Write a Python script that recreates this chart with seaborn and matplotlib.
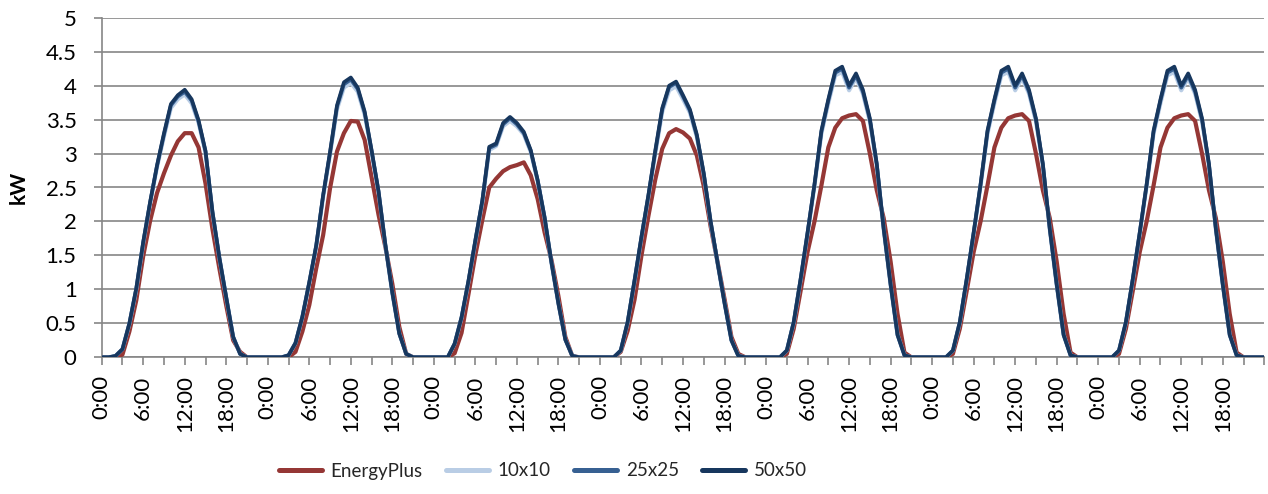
import matplotlib
matplotlib.use("Agg")
import matplotlib.pyplot as plt
import numpy as np
import pandas as pd
import seaborn as sns

# Hourly PV output (kW) over one week, hour 0 .. hour 168
energyplus = [
    0, 0, 0, 0.04, 0.38, 0.84, 1.49, 2.01, 2.42, 2.71, 2.97, 3.18, 3.30, 3.30, 3.09, 2.56, 1.89, 1.31, 0.76, 0.25, 0.08, 0, 0, 0,
    0, 0, 0, 0, 0.08, 0.38, 0.77, 1.31, 1.80, 2.49, 3.03, 3.30, 3.48, 3.47, 3.20, 2.65, 2.10, 1.62, 1.08, 0.45, 0.05, 0, 0, 0,
    0, 0, 0, 0.06, 0.36, 0.93, 1.51, 2.02, 2.50, 2.63, 2.74, 2.80, 2.83, 2.87, 2.68, 2.33, 1.84, 1.43, 0.90, 0.30, 0.02, 0, 0, 0,
    0, 0, 0, 0.08, 0.39, 0.85, 1.50, 2.08, 2.62, 3.07, 3.30, 3.36, 3.31, 3.22, 2.97, 2.52, 1.92, 1.40, 0.86, 0.30, 0.05, 0, 0, 0,
    0, 0, 0, 0.05, 0.42, 0.98, 1.55, 2.00, 2.53, 3.09, 3.38, 3.52, 3.56, 3.58, 3.48, 3.00, 2.46, 2.05, 1.41, 0.64, 0.07, 0, 0, 0,
    0, 0, 0, 0.05, 0.42, 0.98, 1.55, 2.00, 2.53, 3.09, 3.38, 3.52, 3.56, 3.58, 3.48, 3.00, 2.46, 2.05, 1.41, 0.64, 0.07, 0, 0, 0,
    0, 0, 0, 0.05, 0.42, 0.98, 1.55, 2.00, 2.53, 3.09, 3.38, 3.52, 3.56, 3.58, 3.48, 3.00, 2.46, 2.05, 1.41, 0.64, 0.07, 0, 0, 0,
    0,
]

grid_10x10 = [
    0, 0, 0.02, 0.12, 0.49, 1.00, 1.68, 2.27, 2.80, 3.25, 3.67, 3.80, 3.87, 3.74, 3.45, 3.01, 2.13, 1.46, 0.87, 0.30, 0.05, 0, 0, 0,
    0, 0, 0, 0.03, 0.21, 0.59, 1.10, 1.63, 2.36, 2.99, 3.65, 3.97, 4.04, 3.91, 3.57, 3.02, 2.43, 1.64, 0.94, 0.35, 0.05, 0, 0, 0,
    0, 0, 0, 0.20, 0.58, 1.11, 1.71, 2.28, 3.05, 3.11, 3.40, 3.48, 3.40, 3.28, 3.02, 2.59, 2.05, 1.38, 0.79, 0.26, 0.02, 0, 0, 0,
    0, 0, 0, 0.10, 0.51, 1.12, 1.76, 2.36, 3.00, 3.61, 3.93, 3.99, 3.80, 3.60, 3.24, 2.68, 1.98, 1.38, 0.80, 0.25, 0.02, 0, 0, 0,
    0, 0, 0, 0.10, 0.51, 1.14, 1.82, 2.52, 3.29, 3.74, 4.15, 4.20, 3.93, 4.11, 3.88, 3.47, 2.82, 1.88, 1.06, 0.33, 0.03, 0, 0, 0,
    0, 0, 0, 0.10, 0.51, 1.14, 1.82, 2.52, 3.29, 3.74, 4.15, 4.20, 3.93, 4.11, 3.88, 3.47, 2.82, 1.88, 1.06, 0.33, 0.03, 0, 0, 0,
    0, 0, 0, 0.10, 0.51, 1.14, 1.82, 2.52, 3.29, 3.74, 4.15, 4.20, 3.93, 4.11, 3.88, 3.47, 2.82, 1.88, 1.06, 0.33, 0.03, 0, 0, 0,
    0,
]

grid_25x25 = [
    0, 0, 0.02, 0.12, 0.50, 1.01, 1.69, 2.28, 2.82, 3.28, 3.71, 3.84, 3.91, 3.78, 3.47, 3.03, 2.14, 1.47, 0.88, 0.30, 0.05, 0, 0, 0,
    0, 0, 0, 0.03, 0.21, 0.60, 1.10, 1.64, 2.38, 3.01, 3.69, 4.02, 4.09, 3.95, 3.60, 3.04, 2.44, 1.65, 0.95, 0.35, 0.05, 0, 0, 0,
    0, 0, 0, 0.20, 0.59, 1.12, 1.72, 2.30, 3.08, 3.13, 3.43, 3.52, 3.43, 3.30, 3.04, 2.60, 2.06, 1.39, 0.79, 0.26, 0.02, 0, 0, 0,
    0, 0, 0, 0.10, 0.52, 1.13, 1.77, 2.38, 3.03, 3.65, 3.98, 4.04, 3.84, 3.63, 3.26, 2.70, 1.99, 1.39, 0.80, 0.25, 0.02, 0, 0, 0,
    0, 0, 0, 0.10, 0.52, 1.15, 1.83, 2.54, 3.32, 3.78, 4.19, 4.25, 3.97, 4.15, 3.91, 3.50, 2.84, 1.89, 1.07, 0.33, 0.03, 0, 0, 0,
    0, 0, 0, 0.10, 0.52, 1.15, 1.83, 2.54, 3.32, 3.78, 4.19, 4.25, 3.97, 4.15, 3.91, 3.50, 2.84, 1.89, 1.07, 0.33, 0.03, 0, 0, 0,
    0, 0, 0, 0.10, 0.52, 1.15, 1.83, 2.54, 3.32, 3.78, 4.19, 4.25, 3.97, 4.15, 3.91, 3.50, 2.84, 1.89, 1.07, 0.33, 0.03, 0, 0, 0,
    0,
]

grid_50x50 = [
    0, 0, 0.02, 0.12, 0.50, 1.02, 1.70, 2.29, 2.83, 3.30, 3.73, 3.86, 3.94, 3.80, 3.49, 3.04, 2.15, 1.47, 0.88, 0.30, 0.05, 0, 0, 0,
    0, 0, 0, 0.03, 0.21, 0.60, 1.11, 1.65, 2.39, 3.03, 3.71, 4.05, 4.12, 3.97, 3.62, 3.05, 2.45, 1.65, 0.95, 0.35, 0.05, 0, 0, 0,
    0, 0, 0, 0.20, 0.59, 1.13, 1.73, 2.31, 3.10, 3.15, 3.45, 3.54, 3.45, 3.32, 3.05, 2.61, 2.06, 1.39, 0.79, 0.26, 0.02, 0, 0, 0,
    0, 0, 0, 0.10, 0.52, 1.14, 1.78, 2.39, 3.05, 3.67, 4.00, 4.06, 3.86, 3.65, 3.28, 2.71, 2.00, 1.39, 0.80, 0.25, 0.02, 0, 0, 0,
    0, 0, 0, 0.10, 0.52, 1.16, 1.84, 2.55, 3.34, 3.80, 4.22, 4.28, 4.00, 4.18, 3.94, 3.52, 2.85, 1.89, 1.07, 0.33, 0.03, 0, 0, 0,
    0, 0, 0, 0.10, 0.52, 1.16, 1.84, 2.55, 3.34, 3.80, 4.22, 4.28, 4.00, 4.18, 3.94, 3.52, 2.85, 1.89, 1.07, 0.33, 0.03, 0, 0, 0,
    0, 0, 0, 0.10, 0.52, 1.16, 1.84, 2.55, 3.34, 3.80, 4.22, 4.28, 4.00, 4.18, 3.94, 3.52, 2.85, 1.89, 1.07, 0.33, 0.03, 0, 0, 0,
    0,
]

series_names = ["EnergyPlus", "10x10", "25x25", "50x50"]
series_values = [energyplus, grid_10x10, grid_25x25, grid_50x50]
series_colors = ["#953735", "#B9CDE5", "#376092", "#17375E"]
series_widths = [3.0, 2.9, 2.7, 2.6]

day_labels = ["0:00", "6:00", "12:00", "18:00"]
n_days = 7
y_ticks = [0, 0.5, 1, 1.5, 2, 2.5, 3, 3.5, 4, 4.5, 5]
y_tick_labels = ["0", "0.5", "1", "1.5", "2", "2.5", "3", "3.5", "4", "4.5", "5"]

hours = np.arange(len(energyplus))
frame = pd.DataFrame({"hour": hours})
for name, values in zip(series_names, series_values):
    frame[name] = values

sns.set_theme(style="white")
plt.rcParams["font.family"] = ["Lato", "DejaVu Sans"]

W, H = 1268, 494
fig = plt.figure(figsize=(W / 100, H / 100), dpi=100)
ax = fig.add_axes([101.7 / W, (H - 357.3) / H, (1264.3 - 101.7) / W, (357.3 - 17.7) / H])

grid_color = "#868686"
for name, color, lw in zip(series_names, series_colors, series_widths):
    sns.lineplot(data=frame, x="hour", y=name, color=color, linewidth=lw,
                 label=name, ax=ax, legend=False, zorder=3)

ax.set_xlim(0, 168)
ax.set_ylim(0, 5)

# Horizontal gridlines and axis styling
ax.set_yticks(y_ticks)
ax.set_yticklabels(y_tick_labels)
ax.yaxis.grid(True, color=grid_color, linewidth=1.2)
ax.xaxis.grid(False)
ax.set_axisbelow(True)

x_ticks = np.arange(0, 169, 3)
x_labels = []
for t in x_ticks:
    if t % 6 == 0 and t < 24 * n_days:
        x_labels.append(day_labels[(t % 24) // 6])
    else:
        x_labels.append("")
ax.set_xticks(x_ticks)
ax.set_xticklabels(x_labels, rotation=90)

for side in ("top", "right"):
    ax.spines[side].set_visible(False)
for side in ("left", "bottom"):
    ax.spines[side].set_color(grid_color)
    ax.spines[side].set_linewidth(1.2)

ax.tick_params(axis="x", direction="out", length=6, width=1.2, color=grid_color,
               pad=7, labelsize=16, labelcolor="black", bottom=True)
ax.tick_params(axis="y", direction="out", length=6, width=1.2, color=grid_color,
               pad=12, labelsize=16, labelcolor="black", left=True)

ax.set_xlabel("")
ax.set_ylabel("kW", fontsize=15, fontweight="bold", color="black")
ax.yaxis.set_label_coords(-0.063, 0.5)

leg = ax.legend(loc="center", bbox_to_anchor=(543 / W, 1 - 471 / H),
                bbox_transform=fig.transFigure, ncol=4, frameon=False,
                fontsize=13.5, handlelength=2.3, handletextpad=0.45,
                columnspacing=1.25)
for line in leg.get_lines():
    line.set_linewidth(3.6)

fig.savefig("out.png", dpi=100)
